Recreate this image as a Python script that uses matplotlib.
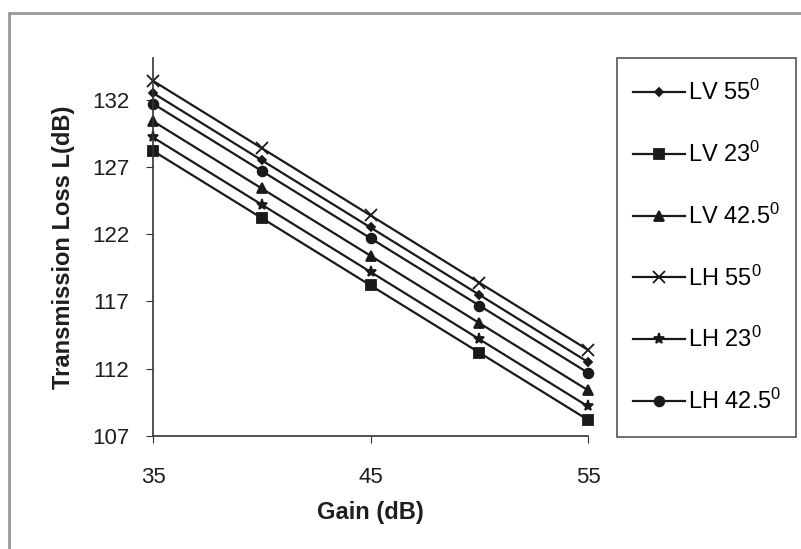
import numpy as np
import matplotlib
matplotlib.use('Agg')
import matplotlib.pyplot as plt
from matplotlib.patches import Rectangle

plt.rcParams['font.family'] = ['Liberation Sans', 'DejaVu Sans']
plt.rcParams['mathtext.fontset'] = 'custom'
plt.rcParams['mathtext.rm'] = 'Liberation Sans'
plt.rcParams['mathtext.it'] = 'Liberation Sans'

gain = [35, 40, 45, 50, 55]

# transmission loss per polarisation / elevation angle
lv_55 = [132.5, 127.5, 122.5, 117.5, 112.5]
lv_23 = [128.2, 123.2, 118.2, 113.2, 108.2]
lv_425 = [130.4, 125.4, 120.4, 115.4, 110.4]
lh_55 = [133.4, 128.4, 123.4, 118.4, 113.4]
lh_23 = [129.2, 124.2, 119.2, 114.2, 109.2]
lh_425 = [131.7, 126.7, 121.7, 116.7, 111.7]

labels = ['LV 55$^0$', 'LV 23$^0$', 'LV 42.5$^0$', 'LH 55$^0$', 'LH 23$^0$', 'LH 42.5$^0$']
series = [lv_55, lv_23, lv_425, lh_55, lh_23, lh_425]
markers = ['D', 's', '^', 'x', '*', 'o']
msizes = [4, 7, 7, 8, 8, 7]

W, H = 801, 549
fig = plt.figure(figsize=(W / 100, H / 100), dpi=100)
ax = fig.add_axes([153/W, 1 - 436/H, (588 - 153)/W, (436 - 58)/H])

for y, lab, mk, ms in zip(series, labels, markers, msizes):
    ax.plot(gain, y, color='#1a1a1a', lw=1.6, marker=mk, markersize=ms,
            markeredgewidth=1.3, label=lab, clip_on=False)

ax.set_xlim(35, 55)
ax.set_ylim(107, 135.1)
ax.set_xticks([35, 45, 55])
ax.set_yticks([107, 112, 117, 122, 127, 132])
ax.spines['top'].set_visible(False)
ax.spines['right'].set_visible(False)
for s in ('left', 'bottom'):
    ax.spines[s].set_color('#333333')
    ax.spines[s].set_linewidth(1.2)
ax.tick_params(labelsize=16, length=5, color='#333333', labelcolor='#1e1e1e')
ax.tick_params(axis='y', pad=12)
ax.tick_params(axis='x', pad=17)
ax.set_xlabel('Gain (dB)', fontsize=17, fontweight='bold', color='#1e1e1e', labelpad=10)
ax.set_ylabel('Transmission Loss L(dB)', fontsize=17, fontweight='bold', color='#1e1e1e', labelpad=12)

# legend entries without frame, box drawn separately
fig.legend(loc='upper left', bbox_to_anchor=(633/W, 1 - 80/H),
           borderaxespad=0, fontsize=17, labelspacing=1.55,
           handlelength=2.2, handletextpad=0.15, borderpad=0, frameon=False)
fig.patches.append(Rectangle((617/W, 1 - 437/H), (796 - 617)/W, (437 - 58)/H,
                             transform=fig.transFigure, fill=False,
                             edgecolor='#555555', lw=1.2))

# outer chart border
fig.patches.append(Rectangle((9/W, -0.1), 1.2, 1.1 - 13/H, transform=fig.transFigure,
                             fill=False, edgecolor='#999999', lw=2))

fig.savefig('out.png', dpi=100)
